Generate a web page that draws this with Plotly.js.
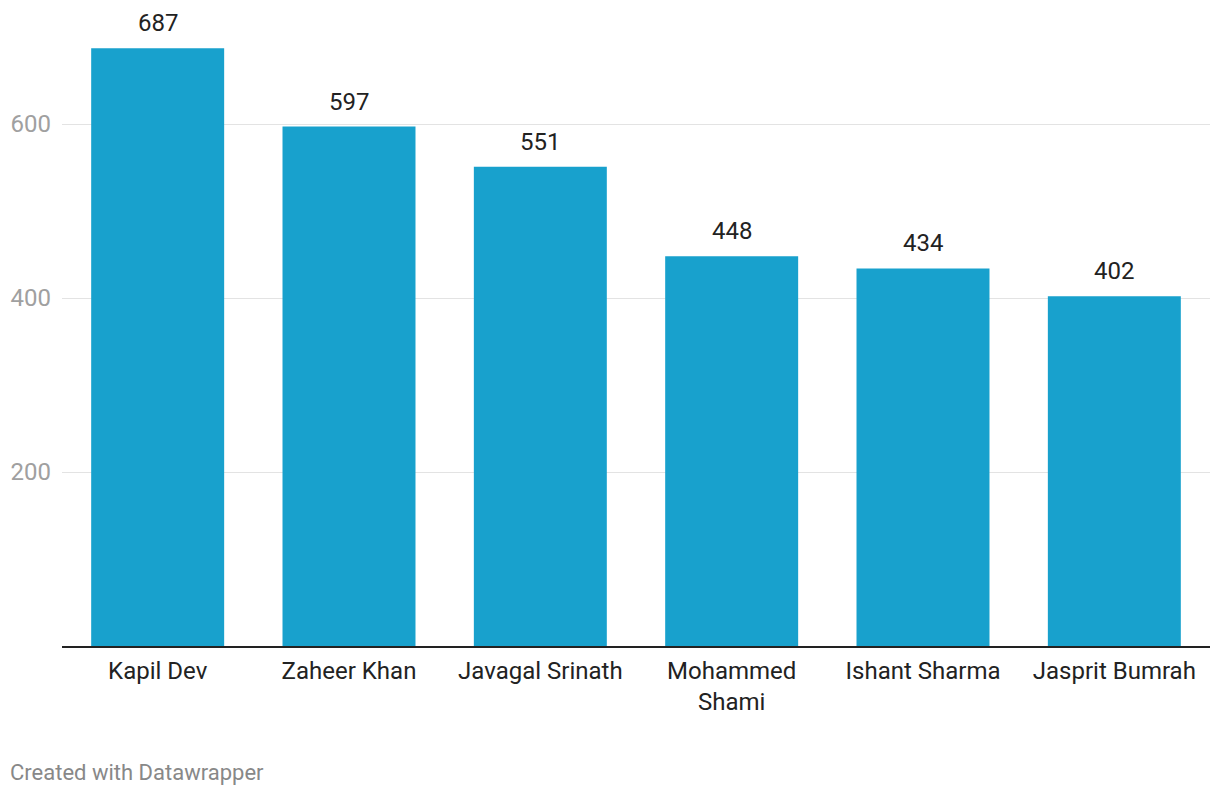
<!DOCTYPE html>
<html>
<head>
<meta charset="utf-8">
<script src="https://cdn.plot.ly/plotly-3.0.1.min.js"></script>
<style>
html,body{margin:0;padding:0;background:#fff;}
#chart{width:1220px;height:796px;}
</style>
</head>
<body>
<div id="chart"></div>
<script>
const categories = ["Kapil Dev", "Zaheer Khan", "Javagal Srinath", "Mohammed<br>Shami", "Ishant Sharma", "Jasprit Bumrah"];
const wickets = [687, 597, 551, 448, 434, 402];
const yTicks = [200, 400, 600];

const trace = {
  type: 'bar',
  x: categories,
  y: wickets,
  marker: {color: '#18a1cd'},
  hoverinfo: 'none',
  text: wickets.map(String),
  textposition: 'none'
};

const annotations = categories.map((c, i) => ({
  x: c, y: wickets[i], xref: 'x', yref: 'y',
  text: String(wickets[i]),
  showarrow: false,
  yanchor: 'bottom',
  yshift: 9,
  font: {family: 'Roboto', size: 24, color: '#222'}
}));
annotations.push({
  xref: 'paper', yref: 'paper', x: 0, y: 0,
  xanchor: 'left', yanchor: 'middle',
  text: 'Created with Datawrapper',
  showarrow: false,
  xshift: -54, yshift: -126,
  font: {family: 'Roboto', size: 22, color: '#888'}
});

const layout = {
  width: 1220, height: 796,
  margin: {l: 62, r: 10, t: 37, b: 150},
  paper_bgcolor: '#fff', plot_bgcolor: '#fff',
  bargap: 0.305,
  font: {family: 'Roboto', size: 24, color: '#222'},
  showlegend: false,
  xaxis: {
    type: 'category',
    showgrid: false,
    showline: true, linecolor: '#222', linewidth: 2,
    ticks: '', tickfont: {family: 'Roboto', size: 24, color: '#222'},
    ticklabelstandoff: 2,
    zeroline: false, fixedrange: true
  },
  yaxis: {
    range: [0, 700],
    tickvals: yTicks,
    ticktext: yTicks.map(String),
    showgrid: true, gridcolor: '#e3e3e3', gridwidth: 1,
    zeroline: false, showline: false,
    ticks: '', ticklabelstandoff: 10,
    tickfont: {family: 'Roboto', size: 24, color: '#a0a0a0'},
    fixedrange: true
  },
  annotations: annotations
};

Plotly.newPlot('chart', [trace], layout, {displayModeBar: false, staticPlot: true});
</script>
</body>
</html>
